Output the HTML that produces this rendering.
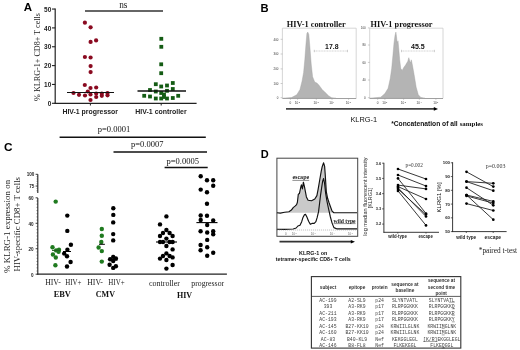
<!DOCTYPE html>
<html><head><meta charset="utf-8"><style>
html,body{margin:0;padding:0;background:#fff;}
body{width:520px;height:350px;overflow:hidden;}
svg{display:block;will-change:transform;}
</style></head><body>
<svg width="520" height="350" viewBox="0 0 520 350">
<rect width="520" height="350" fill="#fff"/>
<text x="23.8" y="10.6" font-family='"Liberation Sans", sans-serif' font-size="11.5" font-weight="bold" text-anchor="start" fill="#000" >A</text>
<line x1="55.2" y1="8.549999999999997" x2="55.2" y2="103.89999999999999" stroke="#222" stroke-width="1.2" />
<line x1="54.6" y1="103.3" x2="196.6" y2="103.3" stroke="#222" stroke-width="1.2" />
<line x1="52.0" y1="103.3" x2="55.2" y2="103.3" stroke="#222" stroke-width="1.1" />
<text x="51.300000000000004" y="105.89999999999999" font-family='"Liberation Sans", sans-serif' font-size="6.5" font-weight="bold" text-anchor="end" fill="#222" >0</text>
<line x1="52.0" y1="84.44999999999999" x2="55.2" y2="84.44999999999999" stroke="#222" stroke-width="1.1" />
<text x="51.300000000000004" y="87.04999999999998" font-family='"Liberation Sans", sans-serif' font-size="6.5" font-weight="bold" text-anchor="end" fill="#222" >10</text>
<line x1="52.0" y1="65.6" x2="55.2" y2="65.6" stroke="#222" stroke-width="1.1" />
<text x="51.300000000000004" y="68.19999999999999" font-family='"Liberation Sans", sans-serif' font-size="6.5" font-weight="bold" text-anchor="end" fill="#222" >20</text>
<line x1="52.0" y1="46.75" x2="55.2" y2="46.75" stroke="#222" stroke-width="1.1" />
<text x="51.300000000000004" y="49.35" font-family='"Liberation Sans", sans-serif' font-size="6.5" font-weight="bold" text-anchor="end" fill="#222" >30</text>
<line x1="52.0" y1="27.89999999999999" x2="55.2" y2="27.89999999999999" stroke="#222" stroke-width="1.1" />
<text x="51.300000000000004" y="30.499999999999993" font-family='"Liberation Sans", sans-serif' font-size="6.5" font-weight="bold" text-anchor="end" fill="#222" >40</text>
<line x1="52.0" y1="9.049999999999997" x2="55.2" y2="9.049999999999997" stroke="#222" stroke-width="1.1" />
<text x="51.300000000000004" y="11.649999999999997" font-family='"Liberation Sans", sans-serif' font-size="6.5" font-weight="bold" text-anchor="end" fill="#222" >50</text>
<line x1="90.4" y1="103.3" x2="90.4" y2="105.5" stroke="#222" stroke-width="1" />
<line x1="161.2" y1="103.3" x2="161.2" y2="105.5" stroke="#222" stroke-width="1" />
<text x="90.2" y="113.8" font-family='"Liberation Sans", sans-serif' font-size="6.9" font-weight="bold" text-anchor="middle" fill="#222" >HIV-1 progressor</text>
<text x="161" y="113.6" font-family='"Liberation Sans", sans-serif' font-size="6.95" font-weight="bold" text-anchor="middle" fill="#222" >HIV-1 controller</text>
<text transform="translate(40,57) rotate(-90)" font-family='"Liberation Serif", serif' font-size="8.15" text-anchor="middle" fill="#222">% KLRG-1+ CD8+ T cells</text>
<line x1="85" y1="11" x2="163" y2="11" stroke="#333" stroke-width="1.4" />
<text x="123.3" y="7.7" font-family='"Liberation Serif", serif' font-size="9.3" font-weight="normal" text-anchor="middle" fill="#222" >ns</text>
<circle cx="84.9" cy="22.7" r="2.1" fill="#8a0a20"/>
<circle cx="90.6" cy="27.3" r="2.1" fill="#8a0a20"/>
<circle cx="90.6" cy="41.9" r="2.1" fill="#8a0a20"/>
<circle cx="96.1" cy="40.4" r="2.1" fill="#8a0a20"/>
<circle cx="84.9" cy="57" r="2.1" fill="#8a0a20"/>
<circle cx="90.6" cy="57.5" r="2.1" fill="#8a0a20"/>
<circle cx="90.6" cy="66.1" r="2.1" fill="#8a0a20"/>
<circle cx="90.6" cy="72.1" r="2.1" fill="#8a0a20"/>
<circle cx="84.8" cy="85" r="2.1" fill="#8a0a20"/>
<circle cx="90.5" cy="88" r="2.1" fill="#8a0a20"/>
<circle cx="96.2" cy="87.5" r="2.1" fill="#8a0a20"/>
<circle cx="73.5" cy="93" r="2.1" fill="#8a0a20"/>
<circle cx="79" cy="94.8" r="2.1" fill="#8a0a20"/>
<circle cx="85" cy="95.5" r="2.1" fill="#8a0a20"/>
<circle cx="87.8" cy="91.5" r="2.1" fill="#8a0a20"/>
<circle cx="90.5" cy="94.5" r="2.1" fill="#8a0a20"/>
<circle cx="96.2" cy="93.5" r="2.1" fill="#8a0a20"/>
<circle cx="96.2" cy="97" r="2.1" fill="#8a0a20"/>
<circle cx="101.8" cy="93.5" r="2.1" fill="#8a0a20"/>
<circle cx="101.8" cy="95.8" r="2.1" fill="#8a0a20"/>
<circle cx="107.5" cy="93" r="2.1" fill="#8a0a20"/>
<circle cx="107.5" cy="95.3" r="2.1" fill="#8a0a20"/>
<circle cx="90.5" cy="100" r="2.1" fill="#8a0a20"/>
<line x1="67" y1="92.5" x2="114" y2="92.5" stroke="#111" stroke-width="1.1" />
<rect x="159.4" y="36.9" width="3.8" height="3.8" fill="#145c14"/>
<rect x="159.4" y="44.9" width="3.8" height="3.8" fill="#145c14"/>
<rect x="159.29999999999998" y="62.4" width="3.8" height="3.8" fill="#145c14"/>
<rect x="159.29999999999998" y="71.3" width="3.8" height="3.8" fill="#145c14"/>
<rect x="153.9" y="82.3" width="3.8" height="3.8" fill="#145c14"/>
<rect x="159.29999999999998" y="84.6" width="3.8" height="3.8" fill="#145c14"/>
<rect x="165.1" y="83.6" width="3.8" height="3.8" fill="#145c14"/>
<rect x="170.9" y="81.1" width="3.8" height="3.8" fill="#145c14"/>
<rect x="170.9" y="87.1" width="3.8" height="3.8" fill="#145c14"/>
<rect x="148.1" y="88.1" width="3.8" height="3.8" fill="#145c14"/>
<rect x="153.9" y="89.6" width="3.8" height="3.8" fill="#145c14"/>
<rect x="159.29999999999998" y="91.1" width="3.8" height="3.8" fill="#145c14"/>
<rect x="162.1" y="92.6" width="3.8" height="3.8" fill="#145c14"/>
<rect x="165.1" y="88.89999999999999" width="3.8" height="3.8" fill="#145c14"/>
<rect x="142.29999999999998" y="93.89999999999999" width="3.8" height="3.8" fill="#145c14"/>
<rect x="148.1" y="94.6" width="3.8" height="3.8" fill="#145c14"/>
<rect x="153.9" y="96.6" width="3.8" height="3.8" fill="#145c14"/>
<rect x="159.29999999999998" y="96.6" width="3.8" height="3.8" fill="#145c14"/>
<rect x="165.1" y="96.6" width="3.8" height="3.8" fill="#145c14"/>
<rect x="170.9" y="96.1" width="3.8" height="3.8" fill="#145c14"/>
<rect x="176.29999999999998" y="93.89999999999999" width="3.8" height="3.8" fill="#145c14"/>
<rect x="162.1" y="95.1" width="3.8" height="3.8" fill="#145c14"/>
<line x1="137.5" y1="91" x2="186" y2="91" stroke="#111" stroke-width="1.4" />
<text x="260.5" y="11.6" font-family='"Liberation Sans", sans-serif' font-size="11.2" font-weight="bold" text-anchor="start" fill="#000" >B</text>
<text x="316.2" y="26.7" font-family='"Liberation Serif", serif' font-size="8.3" font-weight="bold" text-anchor="middle" fill="#111" >HIV-1 controller</text>
<text x="401.5" y="26.6" font-family='"Liberation Serif", serif' font-size="8.3" font-weight="bold" text-anchor="middle" fill="#111" >HIV-1 progressor</text>
<path d="M282.4 98.3 V28.2 H356.2 V98.3" fill="none" stroke="#ccc" stroke-width="0.8"/>
<line x1="282.4" y1="98.5" x2="356.2" y2="98.5" stroke="#888" stroke-width="0.8" />
<path d="M369.7 98.3 V28.2 H443 V98.3" fill="none" stroke="#ccc" stroke-width="0.8"/>
<line x1="369.7" y1="98.5" x2="443" y2="98.5" stroke="#888" stroke-width="0.8" />
<path d="M283 98.3 L291.5 97.6 L296.8 94.7 L300 89.4 L302.1 80.9 L303.6 72.5 L304.8 59.8 L305.9 45 L306.9 33.4 L307.8 32.1 L308.8 34.5 L309.9 47.1 L311.2 64 L312.6 76.7 L314.7 82 L316.9 83 L319 85.2 L322.1 89.4 L325.3 92.6 L328.5 95.7 L331.7 97.8 L336 98.3 Z" fill="#b4b4b4" stroke="#a0a0a0" stroke-width="0.4"/>
<path d="M369.7 98.3 L380.7 97.2 L384.9 93.6 L388.1 88.3 L390.2 78.8 L391.7 68.3 L392.9 55.6 L394 42.9 L395 35.5 L395.9 32.1 L396.5 36.6 L397.2 42.9 L398 40.8 L398.8 49.2 L399.7 59.8 L400.7 68.3 L402.2 70.4 L403.9 67.2 L405.6 65.1 L406.7 63 L407.7 61.5 L408.8 57.7 L409.8 60.9 L410.7 63 L411.3 59.8 L412.4 65.1 L414.1 74.6 L416.2 87.3 L418.3 94.7 L420.8 97.4 L425 98.3 Z" fill="#b4b4b4" stroke="#a0a0a0" stroke-width="0.4"/>
<line x1="314.3" y1="51" x2="347.5" y2="51" stroke="#bbb" stroke-width="0.7" stroke-dasharray="1 0.6"/>
<line x1="314.3" y1="49.8" x2="314.3" y2="52.2" stroke="#bbb" stroke-width="0.7" />
<line x1="347.5" y1="49.8" x2="347.5" y2="52.2" stroke="#bbb" stroke-width="0.7" />
<line x1="401.5" y1="51" x2="434.4" y2="51" stroke="#bbb" stroke-width="0.7" stroke-dasharray="1 0.6"/>
<line x1="401.5" y1="49.8" x2="401.5" y2="52.2" stroke="#bbb" stroke-width="0.7" />
<line x1="434.4" y1="49.8" x2="434.4" y2="52.2" stroke="#bbb" stroke-width="0.7" />
<text x="331.8" y="49.2" font-family='"Liberation Sans", sans-serif' font-size="6.9" font-weight="bold" text-anchor="middle" fill="#111" >17.8</text>
<text x="417.8" y="49.4" font-family='"Liberation Sans", sans-serif' font-size="7" font-weight="bold" text-anchor="middle" fill="#111" >45.5</text>
<text x="278.4" y="40.599999999999994" font-family='"Liberation Sans", sans-serif' font-size="2.9" font-weight="normal" text-anchor="end" fill="#333" >400</text>
<line x1="280.59999999999997" y1="39.3" x2="282.4" y2="39.3" stroke="#999" stroke-width="0.5" />
<text x="278.4" y="55.3" font-family='"Liberation Sans", sans-serif' font-size="2.9" font-weight="normal" text-anchor="end" fill="#333" >300</text>
<line x1="280.59999999999997" y1="54" x2="282.4" y2="54" stroke="#999" stroke-width="0.5" />
<text x="278.4" y="70.2" font-family='"Liberation Sans", sans-serif' font-size="2.9" font-weight="normal" text-anchor="end" fill="#333" >200</text>
<line x1="280.59999999999997" y1="68.9" x2="282.4" y2="68.9" stroke="#999" stroke-width="0.5" />
<text x="278.4" y="84.8" font-family='"Liberation Sans", sans-serif' font-size="2.9" font-weight="normal" text-anchor="end" fill="#333" >100</text>
<line x1="280.59999999999997" y1="83.5" x2="282.4" y2="83.5" stroke="#999" stroke-width="0.5" />
<text x="278.4" y="99.0" font-family='"Liberation Sans", sans-serif' font-size="2.9" font-weight="normal" text-anchor="end" fill="#333" >0</text>
<line x1="280.59999999999997" y1="97.7" x2="282.4" y2="97.7" stroke="#999" stroke-width="0.5" />
<text x="365.7" y="29.2" font-family='"Liberation Sans", sans-serif' font-size="2.9" font-weight="normal" text-anchor="end" fill="#333" >100</text>
<line x1="367.9" y1="27.9" x2="369.7" y2="27.9" stroke="#999" stroke-width="0.5" />
<text x="365.7" y="46.3" font-family='"Liberation Sans", sans-serif' font-size="2.9" font-weight="normal" text-anchor="end" fill="#333" >80</text>
<line x1="367.9" y1="45" x2="369.7" y2="45" stroke="#999" stroke-width="0.5" />
<text x="365.7" y="63.699999999999996" font-family='"Liberation Sans", sans-serif' font-size="2.9" font-weight="normal" text-anchor="end" fill="#333" >60</text>
<line x1="367.9" y1="62.4" x2="369.7" y2="62.4" stroke="#999" stroke-width="0.5" />
<text x="365.7" y="81.3" font-family='"Liberation Sans", sans-serif' font-size="2.9" font-weight="normal" text-anchor="end" fill="#333" >40</text>
<line x1="367.9" y1="80" x2="369.7" y2="80" stroke="#999" stroke-width="0.5" />
<text x="365.7" y="99.0" font-family='"Liberation Sans", sans-serif' font-size="2.9" font-weight="normal" text-anchor="end" fill="#333" >0</text>
<line x1="367.9" y1="97.7" x2="369.7" y2="97.7" stroke="#999" stroke-width="0.5" />
<text x="290.4" y="104.1" font-family='"Liberation Sans", sans-serif' font-size="3.1" font-weight="normal" text-anchor="middle" fill="#333" >0</text>
<line x1="290.4" y1="98.3" x2="290.4" y2="99.8" stroke="#999" stroke-width="0.5" />
<text x="296.6" y="104.1" font-family='"Liberation Sans", sans-serif' font-size="3.1" font-weight="normal" text-anchor="middle" fill="#333" >10</text>
<text x="298.70000000000005" y="102.5" font-family='"Liberation Sans", sans-serif' font-size="2.2" font-weight="normal" text-anchor="start" fill="#333" >2</text>
<line x1="297.6" y1="98.3" x2="297.6" y2="99.8" stroke="#999" stroke-width="0.5" />
<text x="315.3" y="104.1" font-family='"Liberation Sans", sans-serif' font-size="3.1" font-weight="normal" text-anchor="middle" fill="#333" >10</text>
<text x="317.40000000000003" y="102.5" font-family='"Liberation Sans", sans-serif' font-size="2.2" font-weight="normal" text-anchor="start" fill="#333" >3</text>
<line x1="316.3" y1="98.3" x2="316.3" y2="99.8" stroke="#999" stroke-width="0.5" />
<text x="331" y="104.1" font-family='"Liberation Sans", sans-serif' font-size="3.1" font-weight="normal" text-anchor="middle" fill="#333" >10</text>
<text x="333.1" y="102.5" font-family='"Liberation Sans", sans-serif' font-size="2.2" font-weight="normal" text-anchor="start" fill="#333" >4</text>
<line x1="332" y1="98.3" x2="332" y2="99.8" stroke="#999" stroke-width="0.5" />
<text x="347.6" y="104.1" font-family='"Liberation Sans", sans-serif' font-size="3.1" font-weight="normal" text-anchor="middle" fill="#333" >10</text>
<text x="349.70000000000005" y="102.5" font-family='"Liberation Sans", sans-serif' font-size="2.2" font-weight="normal" text-anchor="start" fill="#333" >5</text>
<line x1="348.6" y1="98.3" x2="348.6" y2="99.8" stroke="#999" stroke-width="0.5" />
<text x="377.7" y="104.1" font-family='"Liberation Sans", sans-serif' font-size="3.1" font-weight="normal" text-anchor="middle" fill="#333" >0</text>
<line x1="377.7" y1="98.3" x2="377.7" y2="99.8" stroke="#999" stroke-width="0.5" />
<text x="383.9" y="104.1" font-family='"Liberation Sans", sans-serif' font-size="3.1" font-weight="normal" text-anchor="middle" fill="#333" >10</text>
<text x="386.0" y="102.5" font-family='"Liberation Sans", sans-serif' font-size="2.2" font-weight="normal" text-anchor="start" fill="#333" >2</text>
<line x1="384.9" y1="98.3" x2="384.9" y2="99.8" stroke="#999" stroke-width="0.5" />
<text x="402.6" y="104.1" font-family='"Liberation Sans", sans-serif' font-size="3.1" font-weight="normal" text-anchor="middle" fill="#333" >10</text>
<text x="404.70000000000005" y="102.5" font-family='"Liberation Sans", sans-serif' font-size="2.2" font-weight="normal" text-anchor="start" fill="#333" >3</text>
<line x1="403.6" y1="98.3" x2="403.6" y2="99.8" stroke="#999" stroke-width="0.5" />
<text x="418.3" y="104.1" font-family='"Liberation Sans", sans-serif' font-size="3.1" font-weight="normal" text-anchor="middle" fill="#333" >10</text>
<text x="420.40000000000003" y="102.5" font-family='"Liberation Sans", sans-serif' font-size="2.2" font-weight="normal" text-anchor="start" fill="#333" >4</text>
<line x1="419.3" y1="98.3" x2="419.3" y2="99.8" stroke="#999" stroke-width="0.5" />
<text x="434.9" y="104.1" font-family='"Liberation Sans", sans-serif' font-size="3.1" font-weight="normal" text-anchor="middle" fill="#333" >10</text>
<text x="437.0" y="102.5" font-family='"Liberation Sans", sans-serif' font-size="2.2" font-weight="normal" text-anchor="start" fill="#333" >5</text>
<line x1="435.9" y1="98.3" x2="435.9" y2="99.8" stroke="#999" stroke-width="0.5" />
<line x1="286" y1="108.9" x2="435" y2="108.9" stroke="#444" stroke-width="1.7" />
<path d="M433.8 107.1 L438 108.9 L433.8 110.7 Z" fill="#000"/>
<text x="350.4" y="122" font-family='"Liberation Sans", sans-serif' font-size="7.4" font-weight="normal" text-anchor="start" fill="#111" >KLRG-1</text>
<text x="391.2" y="126.1" font-family='"Liberation Sans", sans-serif' font-size="6.7" font-weight="bold" text-anchor="start" fill="#111" >*Concatenation of all</text>
<text x="459.7" y="126.1" font-family='"Liberation Serif", serif' font-size="6.9" font-weight="bold" text-anchor="start" fill="#111" >samples</text>
<text x="4.1" y="151.4" font-family='"Liberation Sans", sans-serif' font-size="11.8" font-weight="bold" text-anchor="start" fill="#000" >C</text>
<line x1="37.8" y1="174.3" x2="37.8" y2="193.1" stroke="#222" stroke-width="1.1" />
<line x1="37.8" y1="198" x2="37.8" y2="274.7" stroke="#222" stroke-width="1.1" />
<line x1="37.3" y1="274.2" x2="226.9" y2="274.2" stroke="#222" stroke-width="1.2" />
<line x1="35.599999999999994" y1="274.2" x2="37.8" y2="274.2" stroke="#222" stroke-width="0.9" />
<text x="33.599999999999994" y="276.5" font-family='"Liberation Sans", sans-serif' font-size="4.6" font-weight="bold" text-anchor="end" fill="#222" >0</text>
<line x1="35.599999999999994" y1="248.73999999999998" x2="37.8" y2="248.73999999999998" stroke="#222" stroke-width="0.9" />
<text x="33.599999999999994" y="251.04" font-family='"Liberation Sans", sans-serif' font-size="4.6" font-weight="bold" text-anchor="end" fill="#222" >20</text>
<line x1="35.599999999999994" y1="223.28" x2="37.8" y2="223.28" stroke="#222" stroke-width="0.9" />
<text x="33.599999999999994" y="225.58" font-family='"Liberation Sans", sans-serif' font-size="4.6" font-weight="bold" text-anchor="end" fill="#222" >40</text>
<line x1="35.599999999999994" y1="197.82" x2="37.8" y2="197.82" stroke="#222" stroke-width="0.9" />
<text x="33.599999999999994" y="200.12" font-family='"Liberation Sans", sans-serif' font-size="4.6" font-weight="bold" text-anchor="end" fill="#222" >60</text>
<line x1="35.599999999999994" y1="186.05" x2="37.8" y2="186.05" stroke="#222" stroke-width="0.9" />
<text x="34.4" y="188.15" font-family='"Liberation Sans", sans-serif' font-size="4.6" font-weight="bold" text-anchor="end" fill="#222" >75</text>
<line x1="35.599999999999994" y1="174.3" x2="37.8" y2="174.3" stroke="#222" stroke-width="0.9" />
<text x="34.4" y="176.4" font-family='"Liberation Sans", sans-serif' font-size="4.6" font-weight="bold" text-anchor="end" fill="#222" >100</text>
<line x1="36.5" y1="271.0175" x2="37.8" y2="271.0175" stroke="#333" stroke-width="0.6" />
<line x1="36.5" y1="267.835" x2="37.8" y2="267.835" stroke="#333" stroke-width="0.6" />
<line x1="36.5" y1="264.6525" x2="37.8" y2="264.6525" stroke="#333" stroke-width="0.6" />
<line x1="36.5" y1="261.46999999999997" x2="37.8" y2="261.46999999999997" stroke="#333" stroke-width="0.6" />
<line x1="36.5" y1="258.28749999999997" x2="37.8" y2="258.28749999999997" stroke="#333" stroke-width="0.6" />
<line x1="36.5" y1="255.105" x2="37.8" y2="255.105" stroke="#333" stroke-width="0.6" />
<line x1="36.5" y1="251.92249999999999" x2="37.8" y2="251.92249999999999" stroke="#333" stroke-width="0.6" />
<line x1="36.5" y1="245.5575" x2="37.8" y2="245.5575" stroke="#333" stroke-width="0.6" />
<line x1="36.5" y1="242.375" x2="37.8" y2="242.375" stroke="#333" stroke-width="0.6" />
<line x1="36.5" y1="239.1925" x2="37.8" y2="239.1925" stroke="#333" stroke-width="0.6" />
<line x1="36.5" y1="236.01" x2="37.8" y2="236.01" stroke="#333" stroke-width="0.6" />
<line x1="36.5" y1="232.8275" x2="37.8" y2="232.8275" stroke="#333" stroke-width="0.6" />
<line x1="36.5" y1="229.64499999999998" x2="37.8" y2="229.64499999999998" stroke="#333" stroke-width="0.6" />
<line x1="36.5" y1="226.46249999999998" x2="37.8" y2="226.46249999999998" stroke="#333" stroke-width="0.6" />
<line x1="36.5" y1="220.0975" x2="37.8" y2="220.0975" stroke="#333" stroke-width="0.6" />
<line x1="36.5" y1="216.915" x2="37.8" y2="216.915" stroke="#333" stroke-width="0.6" />
<line x1="36.5" y1="213.7325" x2="37.8" y2="213.7325" stroke="#333" stroke-width="0.6" />
<line x1="36.5" y1="210.54999999999998" x2="37.8" y2="210.54999999999998" stroke="#333" stroke-width="0.6" />
<line x1="36.5" y1="207.3675" x2="37.8" y2="207.3675" stroke="#333" stroke-width="0.6" />
<line x1="36.5" y1="204.185" x2="37.8" y2="204.185" stroke="#333" stroke-width="0.6" />
<line x1="36.5" y1="201.0025" x2="37.8" y2="201.0025" stroke="#333" stroke-width="0.6" />
<line x1="36.599999999999994" y1="190.75" x2="37.8" y2="190.75" stroke="#333" stroke-width="0.6" />
<line x1="36.599999999999994" y1="188.4" x2="37.8" y2="188.4" stroke="#333" stroke-width="0.6" />
<line x1="36.599999999999994" y1="183.7" x2="37.8" y2="183.7" stroke="#333" stroke-width="0.6" />
<line x1="36.599999999999994" y1="181.35" x2="37.8" y2="181.35" stroke="#333" stroke-width="0.6" />
<line x1="36.599999999999994" y1="179.0" x2="37.8" y2="179.0" stroke="#333" stroke-width="0.6" />
<line x1="36.599999999999994" y1="176.65" x2="37.8" y2="176.65" stroke="#333" stroke-width="0.6" />
<text transform="translate(9.9,226.4) rotate(-90)" font-family='"Liberation Serif", serif' font-size="8.95" text-anchor="middle" fill="#222">% KLRG-1 expression on</text>
<text transform="translate(20.4,224.2) rotate(-90)" font-family='"Liberation Serif", serif' font-size="8.8" text-anchor="middle" fill="#222">HIV-specific CD8+ T cells</text>
<line x1="59.6" y1="137.2" x2="205.8" y2="137.2" stroke="#111" stroke-width="1.5" />
<line x1="113.5" y1="152" x2="207" y2="152" stroke="#111" stroke-width="1.5" />
<line x1="164.6" y1="167.6" x2="207.7" y2="167.6" stroke="#111" stroke-width="1.5" />
<text x="114" y="132.3" font-family='"Liberation Serif", serif' font-size="8.5" font-weight="normal" text-anchor="middle" fill="#111" >p=0.0001</text>
<text x="147.3" y="147.2" font-family='"Liberation Serif", serif' font-size="8.5" font-weight="normal" text-anchor="middle" fill="#111" >p=0.0007</text>
<text x="182.7" y="163.9" font-family='"Liberation Serif", serif' font-size="8.5" font-weight="normal" text-anchor="middle" fill="#111" >p=0.0005</text>
<text x="53" y="284.5" font-family='"Liberation Serif", serif' font-size="7.8" font-weight="normal" text-anchor="middle" fill="#222" >HIV-</text>
<text x="73.3" y="284.5" font-family='"Liberation Serif", serif' font-size="7.8" font-weight="normal" text-anchor="middle" fill="#222" textLength="16.3" lengthAdjust="spacingAndGlyphs">HIV+</text>
<text x="95.1" y="284.5" font-family='"Liberation Serif", serif' font-size="7.8" font-weight="normal" text-anchor="middle" fill="#222" >HIV-</text>
<text x="116.5" y="284.5" font-family='"Liberation Serif", serif' font-size="7.8" font-weight="normal" text-anchor="middle" fill="#222" textLength="16.3" lengthAdjust="spacingAndGlyphs">HIV+</text>
<text x="62.3" y="296.9" font-family='"Liberation Serif", serif' font-size="8.4" font-weight="bold" text-anchor="middle" fill="#111" >EBV</text>
<text x="105.4" y="296.9" font-family='"Liberation Serif", serif' font-size="8" font-weight="bold" text-anchor="middle" fill="#111" >CMV</text>
<text x="164.5" y="286" font-family='"Liberation Serif", serif' font-size="8" font-weight="normal" text-anchor="middle" fill="#222" >controller</text>
<text x="207.7" y="286" font-family='"Liberation Serif", serif' font-size="7.8" font-weight="normal" text-anchor="middle" fill="#222" >progressor</text>
<text x="184.5" y="298" font-family='"Liberation Serif", serif' font-size="8" font-weight="bold" text-anchor="middle" fill="#111" >HIV</text>
<circle cx="55.7" cy="201.6" r="2.2" fill="#1f7a1f"/>
<circle cx="52.5" cy="247.2" r="2.2" fill="#1f7a1f"/>
<circle cx="56.1" cy="250.4" r="2.2" fill="#1f7a1f"/>
<circle cx="59" cy="249.8" r="2.2" fill="#1f7a1f"/>
<circle cx="58.6" cy="251.7" r="2.2" fill="#1f7a1f"/>
<circle cx="52.9" cy="254.5" r="2.2" fill="#1f7a1f"/>
<circle cx="55.8" cy="257.5" r="2.2" fill="#1f7a1f"/>
<circle cx="55.4" cy="265.2" r="2.2" fill="#1f7a1f"/>
<line x1="52" y1="250.4" x2="60" y2="250.4" stroke="#1f5f1f" stroke-width="1" />
<circle cx="67.3" cy="215.6" r="2.2" fill="#000"/>
<circle cx="67.3" cy="230.9" r="2.2" fill="#000"/>
<circle cx="70.9" cy="244.8" r="2.2" fill="#000"/>
<circle cx="67.4" cy="249.8" r="2.2" fill="#000"/>
<circle cx="64.2" cy="253.6" r="2.2" fill="#000"/>
<circle cx="67" cy="256.2" r="2.2" fill="#000"/>
<circle cx="70.6" cy="262" r="2.2" fill="#000"/>
<circle cx="67" cy="266.5" r="2.2" fill="#000"/>
<line x1="63" y1="251.5" x2="71" y2="251.5" stroke="#000" stroke-width="1" />
<circle cx="101.8" cy="229" r="2.2" fill="#1f7a1f"/>
<circle cx="101.8" cy="235.7" r="2.2" fill="#1f7a1f"/>
<circle cx="101.3" cy="242" r="2.2" fill="#1f7a1f"/>
<circle cx="98.6" cy="247.5" r="2.2" fill="#1f7a1f"/>
<circle cx="101.8" cy="251.1" r="2.2" fill="#1f7a1f"/>
<circle cx="101.8" cy="261.6" r="2.2" fill="#1f7a1f"/>
<line x1="99" y1="244.3" x2="104.9" y2="244.3" stroke="#000" stroke-width="1" />
<circle cx="113.3" cy="208.3" r="2.2" fill="#000"/>
<circle cx="113.3" cy="214.9" r="2.2" fill="#000"/>
<circle cx="113.2" cy="222.4" r="2.2" fill="#000"/>
<circle cx="113.2" cy="234.1" r="2.2" fill="#000"/>
<circle cx="113.2" cy="240.4" r="2.2" fill="#000"/>
<circle cx="113.2" cy="256.9" r="2.2" fill="#000"/>
<circle cx="110.1" cy="259.2" r="2.2" fill="#000"/>
<circle cx="115.9" cy="258.5" r="2.2" fill="#000"/>
<circle cx="113.2" cy="261" r="2.2" fill="#000"/>
<circle cx="109.6" cy="264.7" r="2.2" fill="#000"/>
<circle cx="115.9" cy="266.3" r="2.2" fill="#000"/>
<circle cx="113.2" cy="267.9" r="2.2" fill="#000"/>
<line x1="109" y1="260" x2="117.5" y2="260" stroke="#000" stroke-width="1" />
<circle cx="166.4" cy="216.4" r="2.2" fill="#000"/>
<circle cx="160" cy="224.4" r="2.2" fill="#000"/>
<circle cx="166.4" cy="230" r="2.2" fill="#000"/>
<circle cx="163" cy="233" r="2.2" fill="#000"/>
<circle cx="169.6" cy="233" r="2.2" fill="#000"/>
<circle cx="160" cy="236" r="2.2" fill="#000"/>
<circle cx="172.6" cy="236" r="2.2" fill="#000"/>
<circle cx="166.4" cy="238.6" r="2.2" fill="#000"/>
<circle cx="160" cy="242" r="2.2" fill="#000"/>
<circle cx="163" cy="242" r="2.2" fill="#000"/>
<circle cx="169.6" cy="242" r="2.2" fill="#000"/>
<circle cx="172.6" cy="242" r="2.2" fill="#000"/>
<circle cx="166.4" cy="246" r="2.2" fill="#000"/>
<circle cx="172.6" cy="249.4" r="2.2" fill="#000"/>
<circle cx="166.4" cy="253.4" r="2.2" fill="#000"/>
<circle cx="163" cy="256" r="2.2" fill="#000"/>
<circle cx="169.6" cy="256" r="2.2" fill="#000"/>
<circle cx="160" cy="258.6" r="2.2" fill="#000"/>
<circle cx="172.6" cy="257.4" r="2.2" fill="#000"/>
<circle cx="166.4" cy="260" r="2.2" fill="#000"/>
<circle cx="172.6" cy="265" r="2.2" fill="#000"/>
<circle cx="166.4" cy="268.6" r="2.2" fill="#000"/>
<line x1="156" y1="242" x2="177" y2="242" stroke="#000" stroke-width="1.1" />
<circle cx="200.7" cy="176.3" r="2.2" fill="#000"/>
<circle cx="207" cy="180.2" r="2.2" fill="#000"/>
<circle cx="213.2" cy="180.2" r="2.2" fill="#000"/>
<circle cx="213.2" cy="185.7" r="2.2" fill="#000"/>
<circle cx="200.7" cy="189.6" r="2.2" fill="#000"/>
<circle cx="207" cy="192.3" r="2.2" fill="#000"/>
<circle cx="207" cy="203.8" r="2.2" fill="#000"/>
<circle cx="200.7" cy="215.5" r="2.2" fill="#000"/>
<circle cx="207" cy="215.8" r="2.2" fill="#000"/>
<circle cx="200.7" cy="220" r="2.2" fill="#000"/>
<circle cx="213.2" cy="220.5" r="2.2" fill="#000"/>
<circle cx="207.2" cy="225" r="2.2" fill="#000"/>
<circle cx="200.6" cy="231.3" r="2.2" fill="#000"/>
<circle cx="207.2" cy="232.5" r="2.2" fill="#000"/>
<circle cx="213.2" cy="231.3" r="2.2" fill="#000"/>
<circle cx="213.2" cy="234.2" r="2.2" fill="#000"/>
<circle cx="207.2" cy="239.9" r="2.2" fill="#000"/>
<circle cx="200.6" cy="245" r="2.2" fill="#000"/>
<circle cx="207.2" cy="247.2" r="2.2" fill="#000"/>
<circle cx="200.6" cy="250.2" r="2.2" fill="#000"/>
<circle cx="213.2" cy="252.7" r="2.2" fill="#000"/>
<circle cx="207.2" cy="255.8" r="2.2" fill="#000"/>
<line x1="196.4" y1="222.6" x2="217.5" y2="222.6" stroke="#000" stroke-width="1.1" />
<text x="260.8" y="157.6" font-family='"Liberation Sans", sans-serif' font-size="11" font-weight="bold" text-anchor="start" fill="#000" >D</text>
<rect x="276.9" y="158.2" width="80.8" height="78.1" fill="none" stroke="#444" stroke-width="1"/>
<path d="M276.9 212.7 L280.3 213.1 L284.6 212.3 L288.9 211.7 L291.4 210.1 L293.2 207.6 L295.3 205.9 L296.6 204.6 L297.4 202.3 L298.3 194.3 L299.4 193.6 L300.7 187.5 L301.4 184.9 L302.4 188.9 L303.4 182.2 L304.5 186.9 L305.4 191.6 L306.4 196.9 L308.1 200.3 L311.5 200.7 L314.8 199 L316.9 195.6 L318.2 188.9 L319.8 179.5 L321.2 171.4 L322.2 166.7 L323.6 162.8 L324.6 166.1 L325.2 174.1 L326.3 191.6 L327.6 198.3 L328.9 202.3 L330.2 206 L332.1 211.1 L333.9 212.7 L357 212.7 Z" fill="#c9c9c9" stroke="none"/>
<path d="M276.9 212.7 L280.3 213.1 L284.6 212.3 L288.9 211.7 L291.4 210.1 L293.2 207.6 L295.3 205.9 L296.6 204.6 L297.4 202.3 L298.3 194.3 L299.4 193.6 L300.7 187.5 L301.4 184.9 L302.4 188.9 L303.4 182.2 L304.5 186.9 L305.4 191.6 L306.4 196.9 L308.1 200.3 L311.5 200.7 L314.8 199 L316.9 195.6 L318.2 188.9 L319.8 179.5 L321.2 171.4 L322.2 166.7 L323.6 162.8 L324.6 166.1 L325.2 174.1 L326.3 191.6 L327.6 198.3 L328.9 202.3 L330.2 206 L332.1 211.1 L333.9 212.7 L357 212.7" fill="none" stroke="#111" stroke-width="1.15" stroke-linejoin="round"/>
<path d="M276.9 229.2 L284.6 229.4 L293.2 229 L296.2 228 L297.9 226 L300 225.2 L301.7 221.7 L303 217.4 L304.3 214.9 L305.6 214.4 L306.9 217 L308.6 221.3 L310.3 224.3 L312 223.4 L314.2 223.4 L315.9 221.7 L317.2 217.4 L318.5 211.9 L319.5 204 L320.6 194.8 L321.6 188 L322.6 181.5 L323.6 178.5 L324.6 183.5 L325.6 192.9 L326.9 201 L328.6 209 L330.4 217 L332.1 223.1 L333.9 227.6 L336.6 228.8 L357 228.8" fill="none" stroke="#111" stroke-width="1.15" stroke-linejoin="round"/>
<line x1="276.9" y1="230" x2="357" y2="230" stroke="#777" stroke-width="0.5" stroke-dasharray="1 1"/>
<text x="300.8" y="179.4" font-family='"Liberation Serif", serif' font-size="6.05" font-weight="bold" text-anchor="middle" fill="#222" >escape</text>
<line x1="292.4" y1="180.4" x2="309.2" y2="180.4" stroke="#222" stroke-width="0.5" />
<text x="344.6" y="222.6" font-family='"Liberation Serif", serif' font-size="5.65" font-weight="bold" text-anchor="middle" fill="#111" >wild type</text>
<line x1="333.6" y1="223.6" x2="355.6" y2="223.6" stroke="#222" stroke-width="0.5" />
<text x="285.9" y="235.2" font-family='"Liberation Sans", sans-serif' font-size="2.8" font-weight="normal" text-anchor="middle" fill="#666" >0</text>
<text x="293.4" y="235.2" font-family='"Liberation Sans", sans-serif' font-size="2.8" font-weight="normal" text-anchor="middle" fill="#666" >10</text>
<text x="295.59999999999997" y="233.8" font-family='"Liberation Sans", sans-serif' font-size="1.8" font-weight="normal" text-anchor="start" fill="#666" >2</text>
<text x="312.4" y="235.2" font-family='"Liberation Sans", sans-serif' font-size="2.8" font-weight="normal" text-anchor="middle" fill="#666" >10</text>
<text x="314.59999999999997" y="233.8" font-family='"Liberation Sans", sans-serif' font-size="1.8" font-weight="normal" text-anchor="start" fill="#666" >3</text>
<text x="331.4" y="235.2" font-family='"Liberation Sans", sans-serif' font-size="2.8" font-weight="normal" text-anchor="middle" fill="#666" >10</text>
<text x="333.59999999999997" y="233.8" font-family='"Liberation Sans", sans-serif' font-size="1.8" font-weight="normal" text-anchor="start" fill="#666" >4</text>
<text x="349.6" y="235.2" font-family='"Liberation Sans", sans-serif' font-size="2.8" font-weight="normal" text-anchor="middle" fill="#666" >10</text>
<text x="351.8" y="233.8" font-family='"Liberation Sans", sans-serif' font-size="1.8" font-weight="normal" text-anchor="start" fill="#666" >5</text>
<line x1="279.5" y1="241.7" x2="351.5" y2="241.7" stroke="#333" stroke-width="1.8" />
<path d="M350.8 239.9 L355 241.7 L350.8 243.5 Z" fill="#000"/>
<text x="313.2" y="255.3" font-family='"Liberation Sans", sans-serif' font-size="5.4" font-weight="bold" text-anchor="middle" fill="#111" >KLRG-1 on</text>
<text x="313.3" y="261.1" font-family='"Liberation Sans", sans-serif' font-size="5.24" font-weight="bold" text-anchor="middle" fill="#111" >tetramer-specific CD8+ T cells</text>
<text transform="translate(366.6,196.6) rotate(-90)" font-family='"Liberation Sans", sans-serif' font-size="5.58" text-anchor="middle" fill="#222">log median fluorescent intensity</text>
<text transform="translate(371.6,198) rotate(-90)" font-family='"Liberation Sans", sans-serif' font-size="5.35" text-anchor="middle" fill="#222">[KLRG1]</text>
<line x1="383.9" y1="162.8" x2="383.9" y2="232.7" stroke="#222" stroke-width="0.9" />
<line x1="383.5" y1="232.3" x2="439" y2="232.3" stroke="#222" stroke-width="0.9" />
<line x1="382.09999999999997" y1="224.07999999999998" x2="383.9" y2="224.07999999999998" stroke="#222" stroke-width="0.7" />
<text x="381.09999999999997" y="225.48" font-family='"Liberation Sans", sans-serif' font-size="3.9" font-weight="bold" text-anchor="end" fill="#222" >3.2</text>
<line x1="382.09999999999997" y1="208.86" x2="383.9" y2="208.86" stroke="#222" stroke-width="0.7" />
<text x="381.09999999999997" y="210.26000000000002" font-family='"Liberation Sans", sans-serif' font-size="3.9" font-weight="bold" text-anchor="end" fill="#222" >3.3</text>
<line x1="382.09999999999997" y1="193.64000000000001" x2="383.9" y2="193.64000000000001" stroke="#222" stroke-width="0.7" />
<text x="381.09999999999997" y="195.04000000000002" font-family='"Liberation Sans", sans-serif' font-size="3.9" font-weight="bold" text-anchor="end" fill="#222" >3.4</text>
<line x1="382.09999999999997" y1="178.42000000000002" x2="383.9" y2="178.42000000000002" stroke="#222" stroke-width="0.7" />
<text x="381.09999999999997" y="179.82000000000002" font-family='"Liberation Sans", sans-serif' font-size="3.9" font-weight="bold" text-anchor="end" fill="#222" >3.5</text>
<line x1="382.09999999999997" y1="163.2" x2="383.9" y2="163.2" stroke="#222" stroke-width="0.7" />
<text x="381.09999999999997" y="164.6" font-family='"Liberation Sans", sans-serif' font-size="3.9" font-weight="bold" text-anchor="end" fill="#222" >3.6</text>
<line x1="397.8" y1="232.3" x2="397.8" y2="233.6" stroke="#222" stroke-width="0.7" />
<line x1="426" y1="232.3" x2="426" y2="233.6" stroke="#222" stroke-width="0.7" />
<text x="397.5" y="238.2" font-family='"Liberation Sans", sans-serif' font-size="4.8" font-weight="bold" text-anchor="middle" fill="#222" textLength="18.6" lengthAdjust="spacingAndGlyphs">wild-type</text>
<text x="425.6" y="238.2" font-family='"Liberation Sans", sans-serif' font-size="4.8" font-weight="bold" text-anchor="middle" fill="#222" textLength="14.4" lengthAdjust="spacingAndGlyphs">escape</text>
<text x="414.2" y="167" font-family='"Liberation Serif", serif' font-size="5.2" font-weight="normal" text-anchor="middle" fill="#333" >p=0.002</text>
<line x1="398" y1="169" x2="426" y2="179" stroke="#222" stroke-width="0.9" />
<line x1="398" y1="175" x2="426" y2="186" stroke="#222" stroke-width="0.9" />
<line x1="398" y1="178.4" x2="426" y2="213.5" stroke="#222" stroke-width="0.9" />
<line x1="398" y1="185.1" x2="426" y2="188.9" stroke="#222" stroke-width="0.9" />
<line x1="398" y1="186.6" x2="426" y2="199" stroke="#222" stroke-width="0.9" />
<line x1="398" y1="187.8" x2="426" y2="216.5" stroke="#222" stroke-width="0.9" />
<line x1="398" y1="189.1" x2="426" y2="214.5" stroke="#222" stroke-width="0.9" />
<line x1="398" y1="190.9" x2="426" y2="225.4" stroke="#222" stroke-width="0.9" />
<circle cx="398" cy="169" r="1.35" fill="#000"/>
<circle cx="426" cy="179" r="1.35" fill="#000"/>
<circle cx="398" cy="175" r="1.35" fill="#000"/>
<circle cx="426" cy="186" r="1.35" fill="#000"/>
<circle cx="398" cy="178.4" r="1.35" fill="#000"/>
<circle cx="426" cy="213.5" r="1.35" fill="#000"/>
<circle cx="398" cy="185.1" r="1.35" fill="#000"/>
<circle cx="426" cy="188.9" r="1.35" fill="#000"/>
<circle cx="398" cy="186.6" r="1.35" fill="#000"/>
<circle cx="426" cy="199" r="1.35" fill="#000"/>
<circle cx="398" cy="187.8" r="1.35" fill="#000"/>
<circle cx="426" cy="216.5" r="1.35" fill="#000"/>
<circle cx="398" cy="189.1" r="1.35" fill="#000"/>
<circle cx="426" cy="214.5" r="1.35" fill="#000"/>
<circle cx="398" cy="190.9" r="1.35" fill="#000"/>
<circle cx="426" cy="225.4" r="1.35" fill="#000"/>
<text transform="translate(440.5,197.4) rotate(-90)" font-family='"Liberation Sans", sans-serif' font-size="6" text-anchor="middle" fill="#111">KLRG1 [%]</text>
<line x1="452.6" y1="162.2" x2="452.6" y2="232" stroke="#222" stroke-width="0.9" />
<line x1="452.20000000000005" y1="231.6" x2="506.6" y2="231.6" stroke="#222" stroke-width="0.9" />
<line x1="450.8" y1="231.6" x2="452.6" y2="231.6" stroke="#222" stroke-width="0.7" />
<text x="450.0" y="233.1" font-family='"Liberation Sans", sans-serif' font-size="4.3" font-weight="bold" text-anchor="end" fill="#222" >50</text>
<line x1="450.8" y1="217.84" x2="452.6" y2="217.84" stroke="#222" stroke-width="0.7" />
<text x="450.0" y="219.34" font-family='"Liberation Sans", sans-serif' font-size="4.3" font-weight="bold" text-anchor="end" fill="#222" >60</text>
<line x1="450.8" y1="204.07999999999998" x2="452.6" y2="204.07999999999998" stroke="#222" stroke-width="0.7" />
<text x="450.0" y="205.57999999999998" font-family='"Liberation Sans", sans-serif' font-size="4.3" font-weight="bold" text-anchor="end" fill="#222" >70</text>
<line x1="450.8" y1="190.32" x2="452.6" y2="190.32" stroke="#222" stroke-width="0.7" />
<text x="450.0" y="191.82" font-family='"Liberation Sans", sans-serif' font-size="4.3" font-weight="bold" text-anchor="end" fill="#222" >80</text>
<line x1="450.8" y1="176.56" x2="452.6" y2="176.56" stroke="#222" stroke-width="0.7" />
<text x="450.0" y="178.06" font-family='"Liberation Sans", sans-serif' font-size="4.3" font-weight="bold" text-anchor="end" fill="#222" >90</text>
<line x1="450.8" y1="162.8" x2="452.6" y2="162.8" stroke="#222" stroke-width="0.7" />
<text x="450.0" y="164.3" font-family='"Liberation Sans", sans-serif' font-size="4.3" font-weight="bold" text-anchor="end" fill="#222" >100</text>
<line x1="466.3" y1="231.6" x2="466.3" y2="233" stroke="#222" stroke-width="0.7" />
<line x1="493.2" y1="231.6" x2="493.2" y2="233" stroke="#222" stroke-width="0.7" />
<text x="466.2" y="238.5" font-family='"Liberation Sans", sans-serif' font-size="5" font-weight="bold" text-anchor="middle" fill="#222" textLength="19.9" lengthAdjust="spacingAndGlyphs">wild type</text>
<text x="492.8" y="238.5" font-family='"Liberation Sans", sans-serif' font-size="5" font-weight="bold" text-anchor="middle" fill="#222" textLength="16.6" lengthAdjust="spacingAndGlyphs">escape</text>
<text x="495.6" y="167.5" font-family='"Liberation Serif", serif' font-size="5.9" font-weight="normal" text-anchor="middle" fill="#333" >p=0.003</text>
<line x1="466.5" y1="171.8" x2="493.3" y2="186.6" stroke="#222" stroke-width="0.9" />
<line x1="466.5" y1="181.6" x2="493.3" y2="183.3" stroke="#222" stroke-width="0.9" />
<line x1="466.5" y1="181.6" x2="493.3" y2="190.7" stroke="#222" stroke-width="0.9" />
<line x1="466.5" y1="187.7" x2="493.3" y2="205.3" stroke="#222" stroke-width="0.9" />
<line x1="466.5" y1="195" x2="493.3" y2="201.4" stroke="#222" stroke-width="0.9" />
<line x1="466.5" y1="195.9" x2="493.3" y2="203.1" stroke="#222" stroke-width="0.9" />
<line x1="466.5" y1="195" x2="493.3" y2="219.7" stroke="#222" stroke-width="0.9" />
<line x1="466.5" y1="203.6" x2="493.3" y2="210.5" stroke="#222" stroke-width="0.9" />
<circle cx="466.5" cy="171.8" r="1.35" fill="#000"/>
<circle cx="493.3" cy="186.6" r="1.35" fill="#000"/>
<circle cx="466.5" cy="181.6" r="1.35" fill="#000"/>
<circle cx="493.3" cy="183.3" r="1.35" fill="#000"/>
<circle cx="466.5" cy="181.6" r="1.35" fill="#000"/>
<circle cx="493.3" cy="190.7" r="1.35" fill="#000"/>
<circle cx="466.5" cy="187.7" r="1.35" fill="#000"/>
<circle cx="493.3" cy="205.3" r="1.35" fill="#000"/>
<circle cx="466.5" cy="195" r="1.35" fill="#000"/>
<circle cx="493.3" cy="201.4" r="1.35" fill="#000"/>
<circle cx="466.5" cy="195.9" r="1.35" fill="#000"/>
<circle cx="493.3" cy="203.1" r="1.35" fill="#000"/>
<circle cx="466.5" cy="195" r="1.35" fill="#000"/>
<circle cx="493.3" cy="219.7" r="1.35" fill="#000"/>
<circle cx="466.5" cy="203.6" r="1.35" fill="#000"/>
<circle cx="493.3" cy="210.5" r="1.35" fill="#000"/>
<text x="497.9" y="252.6" font-family='"Liberation Serif", serif' font-size="7.3" font-weight="normal" text-anchor="middle" fill="#222" >*paired t-test</text>
<rect x="311.4" y="276.6" width="149.4" height="71.5" fill="none" stroke="#333" stroke-width="1.1"/>
<line x1="311.4" y1="296.4" x2="460.8" y2="296.4" stroke="#333" stroke-width="0.8" />
<text x="328" y="288.9" font-family='"Liberation Sans", sans-serif' font-size="4.7" font-weight="bold" text-anchor="middle" fill="#333" >subject</text>
<text x="357" y="288.9" font-family='"Liberation Sans", sans-serif' font-size="4.7" font-weight="bold" text-anchor="middle" fill="#333" >epitope</text>
<text x="379.6" y="288.9" font-family='"Liberation Sans", sans-serif' font-size="4.7" font-weight="bold" text-anchor="middle" fill="#333" >protein</text>
<text x="404.9" y="285.8" font-family='"Liberation Sans", sans-serif' font-size="4.7" font-weight="bold" text-anchor="middle" fill="#333" >sequence at</text>
<text x="404.9" y="292.2" font-family='"Liberation Sans", sans-serif' font-size="4.7" font-weight="bold" text-anchor="middle" fill="#333" >baseline</text>
<text x="441.5" y="282.3" font-family='"Liberation Sans", sans-serif' font-size="4.7" font-weight="bold" text-anchor="middle" fill="#333" >sequence at</text>
<text x="441.5" y="288.6" font-family='"Liberation Sans", sans-serif' font-size="4.7" font-weight="bold" text-anchor="middle" fill="#333" >second time</text>
<text x="441.2" y="294.9" font-family='"Liberation Sans", sans-serif' font-size="4.7" font-weight="bold" text-anchor="middle" fill="#333" >point</text>
<text x="328" y="301.6" font-family='"Liberation Mono", monospace' font-size="4.8" font-weight="normal" text-anchor="middle" fill="#444" >AC-199</text>
<text x="357" y="301.6" font-family='"Liberation Mono", monospace' font-size="4.8" font-weight="normal" text-anchor="middle" fill="#444" >A2-SL9</text>
<text x="379.6" y="301.6" font-family='"Liberation Mono", monospace' font-size="4.8" font-weight="normal" text-anchor="middle" fill="#444" >p24</text>
<text x="404.9" y="301.6" font-family='"Liberation Mono", monospace' font-size="4.8" font-weight="normal" text-anchor="middle" fill="#444" >SLYNTVATL</text>
<text x="441.8" y="301.6" font-family='"Liberation Mono", monospace' font-size="4.8" font-weight="normal" text-anchor="middle" fill="#444" >SLYNTVATL</text>
<text x="328" y="308.14000000000004" font-family='"Liberation Mono", monospace' font-size="4.8" font-weight="normal" text-anchor="middle" fill="#444" >393</text>
<text x="357" y="308.14000000000004" font-family='"Liberation Mono", monospace' font-size="4.8" font-weight="normal" text-anchor="middle" fill="#444" >A3-RK9</text>
<text x="379.6" y="308.14000000000004" font-family='"Liberation Mono", monospace' font-size="4.8" font-weight="normal" text-anchor="middle" fill="#444" >p17</text>
<text x="404.9" y="308.14000000000004" font-family='"Liberation Mono", monospace' font-size="4.8" font-weight="normal" text-anchor="middle" fill="#444" >RLRPGGKKK</text>
<text x="441.8" y="308.14000000000004" font-family='"Liberation Mono", monospace' font-size="4.8" font-weight="normal" text-anchor="middle" fill="#444" >RLRPGGKKQ</text>
<text x="328" y="314.68" font-family='"Liberation Mono", monospace' font-size="4.8" font-weight="normal" text-anchor="middle" fill="#444" >AC-211</text>
<text x="357" y="314.68" font-family='"Liberation Mono", monospace' font-size="4.8" font-weight="normal" text-anchor="middle" fill="#444" >A3-RK9</text>
<text x="379.6" y="314.68" font-family='"Liberation Mono", monospace' font-size="4.8" font-weight="normal" text-anchor="middle" fill="#444" >p17</text>
<text x="404.9" y="314.68" font-family='"Liberation Mono", monospace' font-size="4.8" font-weight="normal" text-anchor="middle" fill="#444" >RLRPGGKKK</text>
<text x="441.8" y="314.68" font-family='"Liberation Mono", monospace' font-size="4.8" font-weight="normal" text-anchor="middle" fill="#444" >RLRPGGKKR</text>
<text x="328" y="321.22" font-family='"Liberation Mono", monospace' font-size="4.8" font-weight="normal" text-anchor="middle" fill="#444" >AC-193</text>
<text x="357" y="321.22" font-family='"Liberation Mono", monospace' font-size="4.8" font-weight="normal" text-anchor="middle" fill="#444" >A3-RK9</text>
<text x="379.6" y="321.22" font-family='"Liberation Mono", monospace' font-size="4.8" font-weight="normal" text-anchor="middle" fill="#444" >p17</text>
<text x="404.9" y="321.22" font-family='"Liberation Mono", monospace' font-size="4.8" font-weight="normal" text-anchor="middle" fill="#444" >RLRPGGKKK</text>
<text x="441.8" y="321.22" font-family='"Liberation Mono", monospace' font-size="4.8" font-weight="normal" text-anchor="middle" fill="#444" >RLRPGGKKY</text>
<text x="328" y="327.76000000000005" font-family='"Liberation Mono", monospace' font-size="4.8" font-weight="normal" text-anchor="middle" fill="#444" >AC-145</text>
<text x="357" y="327.76000000000005" font-family='"Liberation Mono", monospace' font-size="4.8" font-weight="normal" text-anchor="middle" fill="#444" >B27-KK10</text>
<text x="379.6" y="327.76000000000005" font-family='"Liberation Mono", monospace' font-size="4.8" font-weight="normal" text-anchor="middle" fill="#444" >p24</text>
<text x="404.9" y="327.76000000000005" font-family='"Liberation Mono", monospace' font-size="4.8" font-weight="normal" text-anchor="middle" fill="#444" >KRWIILGLNK</text>
<text x="441.8" y="327.76000000000005" font-family='"Liberation Mono", monospace' font-size="4.8" font-weight="normal" text-anchor="middle" fill="#444" >KRWIIMGLNK</text>
<text x="328" y="334.3" font-family='"Liberation Mono", monospace' font-size="4.8" font-weight="normal" text-anchor="middle" fill="#444" >AC-160</text>
<text x="357" y="334.3" font-family='"Liberation Mono", monospace' font-size="4.8" font-weight="normal" text-anchor="middle" fill="#444" >B27-KK10</text>
<text x="379.6" y="334.3" font-family='"Liberation Mono", monospace' font-size="4.8" font-weight="normal" text-anchor="middle" fill="#444" >p24</text>
<text x="404.9" y="334.3" font-family='"Liberation Mono", monospace' font-size="4.8" font-weight="normal" text-anchor="middle" fill="#444" >KRWIILGLNK</text>
<text x="441.8" y="334.3" font-family='"Liberation Mono", monospace' font-size="4.8" font-weight="normal" text-anchor="middle" fill="#444" >KRWIIMGLNK</text>
<text x="328" y="340.84000000000003" font-family='"Liberation Mono", monospace' font-size="4.8" font-weight="normal" text-anchor="middle" fill="#444" >AC-83</text>
<text x="357" y="340.84000000000003" font-family='"Liberation Mono", monospace' font-size="4.8" font-weight="normal" text-anchor="middle" fill="#444" >B40-KL9</text>
<text x="379.6" y="340.84000000000003" font-family='"Liberation Mono", monospace' font-size="4.8" font-weight="normal" text-anchor="middle" fill="#444" >Nef</text>
<text x="404.9" y="340.84000000000003" font-family='"Liberation Mono", monospace' font-size="4.8" font-weight="normal" text-anchor="middle" fill="#444" >KEKGGLEGL</text>
<text x="441.8" y="340.84000000000003" font-family='"Liberation Mono", monospace' font-size="4.8" font-weight="normal" text-anchor="middle" fill="#444" >[K/R]EKGGLEGL</text>
<text x="328" y="347.38" font-family='"Liberation Mono", monospace' font-size="4.8" font-weight="normal" text-anchor="middle" fill="#444" >AC-146</text>
<text x="357" y="347.38" font-family='"Liberation Mono", monospace' font-size="4.8" font-weight="normal" text-anchor="middle" fill="#444" >B8-FL8</text>
<text x="379.6" y="347.38" font-family='"Liberation Mono", monospace' font-size="4.8" font-weight="normal" text-anchor="middle" fill="#444" >Nef</text>
<text x="404.9" y="347.38" font-family='"Liberation Mono", monospace' font-size="4.8" font-weight="normal" text-anchor="middle" fill="#444" >FLKEKGGL</text>
<text x="441.8" y="347.38" font-family='"Liberation Mono", monospace' font-size="4.8" font-weight="normal" text-anchor="middle" fill="#444" >FLKEQGGL</text>
<line x1="449.00000000000006" y1="302.20000000000005" x2="454.76000000000005" y2="302.20000000000005" stroke="#333" stroke-width="0.45" />
<line x1="451.88000000000005" y1="308.74000000000007" x2="454.76000000000005" y2="308.74000000000007" stroke="#333" stroke-width="0.45" />
<line x1="451.88000000000005" y1="315.28000000000003" x2="454.76000000000005" y2="315.28000000000003" stroke="#333" stroke-width="0.45" />
<line x1="451.88000000000005" y1="321.82000000000005" x2="454.76000000000005" y2="321.82000000000005" stroke="#333" stroke-width="0.45" />
<line x1="441.8" y1="328.36000000000007" x2="444.68" y2="328.36000000000007" stroke="#333" stroke-width="0.45" />
<line x1="441.8" y1="334.90000000000003" x2="444.68" y2="334.90000000000003" stroke="#333" stroke-width="0.45" />
<line x1="423.08000000000004" y1="341.44000000000005" x2="437.48" y2="341.44000000000005" stroke="#333" stroke-width="0.45" />
<line x1="441.8" y1="347.98" x2="444.68" y2="347.98" stroke="#333" stroke-width="0.45" />
</svg>
</body></html>
